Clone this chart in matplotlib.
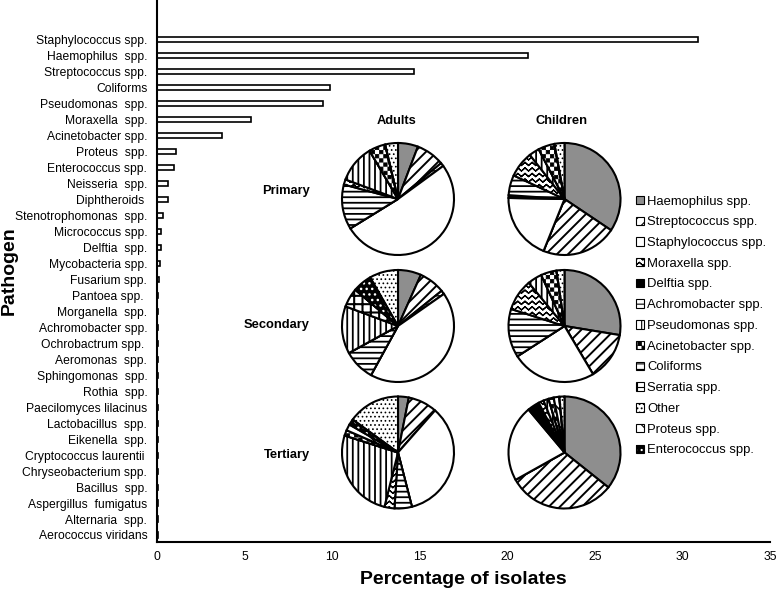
import warnings
warnings.filterwarnings('ignore')
import numpy as np
import matplotlib
matplotlib.use('Agg')
import matplotlib.pyplot as plt
import matplotlib.hatch as mhatch
from matplotlib.path import Path
from matplotlib.patches import Patch, Wedge
from matplotlib.legend_handler import HandlerTuple

plt.rcParams['font.family'] = ['Liberation Sans', 'DejaVu Sans']
plt.rcParams['hatch.linewidth'] = 1.3

# ---------------- data ----------------
pathogens = ['Staphylococcus spp.', 'Haemophilus  spp.', 'Streptococcus spp.', 'Coliforms',
             'Pseudomonas  spp.', 'Moraxella  spp.', 'Acinetobacter spp.', 'Proteus  spp.',
             'Enterococcus spp.', 'Neisseria  spp.', 'Diphtheroids ', 'Stenotrophomonas  spp.',
             'Micrococcus spp.', 'Delftia  spp.', 'Mycobacteria spp.', 'Fusarium spp.',
             'Pantoea spp. ', 'Morganella  spp.', 'Achromobacter spp.', 'Ochrobactrum spp. ',
             'Aeromonas  spp.', 'Sphingomonas  spp.', 'Rothia  spp.', 'Paecilomyces lilacinus',
             'Lactobacillus  spp.', 'Eikenella  spp.', 'Cryptococcus laurentii ', 'Chryseobacterium spp.',
             'Bacillus  spp.', 'Aspergillus  fumigatus', 'Alternaria  spp.', 'Aerococcus viridans']
isolate_pct = [30.9, 21.2, 14.7, 9.9, 9.5, 5.35, 3.7, 1.1, 0.95, 0.6, 0.6, 0.35,
               0.25, 0.25, 0.15, 0.12, 0.07, 0.07, 0.07, 0.07, 0.07, 0.07, 0.07, 0.07,
               0.07, 0.07, 0.07, 0.07, 0.07, 0.07, 0.07, 0.07]
x_ticks = [0, 5, 10, 15, 20, 25, 30, 35]

# clockwise slice order used in every pie
slice_order = ['Haemophilus spp.', 'Streptococcus spp.', 'Achromobacter spp.', 'Staphylococcus spp.',
               'Delftia spp.', 'Coliforms', 'Moraxella spp.', 'Pseudomonas spp.', 'Serratia spp.',
               'Acinetobacter spp.', 'Proteus spp.', 'Enterococcus spp.', 'Other']
adults_primary     = [5.8, 8.2, 1.0, 51.4, 0.0, 13.0, 1.5, 10.9, 0.0, 4.8, 0.0, 0.0, 3.7]
children_primary   = [34.4, 21.7, 0.0, 19.2, 0.8, 5.8, 7.5, 3.0, 0.0, 4.7, 0.0, 0.0, 2.9]
adults_secondary   = [6.7, 7.5, 1.1, 42.7, 0.0, 9.0, 0.0, 13.7, 5.5, 0.0, 0.0, 5.5, 8.3]
children_secondary = [27.6, 13.9, 0.0, 24.4, 0.0, 14.0, 9.1, 4.2, 0.0, 4.5, 0.0, 0.0, 2.3]
adults_tertiary    = [3.1, 8.4, 0.0, 34.5, 0.0, 5.0, 2.9, 26.0, 0.0, 1.6, 1.8, 1.7, 15.0]
children_tertiary  = [35.7, 31.2, 0.0, 22.0, 3.5, 0.0, 1.5, 1.5, 0.0, 1.5, 1.6, 0.0, 1.5]

legend_order = ['Haemophilus spp.', 'Streptococcus spp.', 'Staphylococcus spp.', 'Moraxella spp.',
                'Delftia spp.', 'Achromobacter spp.', 'Pseudomonas spp.', 'Acinetobacter spp.',
                'Coliforms', 'Serratia spp.', 'Other', 'Proteus spp.', 'Enterococcus spp.']
group_labels = ['Adults', 'Children']
level_labels = ['Primary', 'Secondary', 'Tertiary']


# ---------------- custom fill patterns (zigzag, checkerboard) ----------------
class ZigZagHatch(mhatch.HatchPatternBase):
    def __init__(self, hatch, density):
        self.num_rows = int(hatch.count('z') * density)
        self.teeth = max(1, int(self.num_rows * 0.8))
        self.npts = 2 * self.teeth + 1
        self.num_vertices = self.num_rows * self.npts * 2

    def set_vertices_and_codes(self, vertices, codes):
        step = 1.0 / self.num_rows
        amp = 0.28 * step
        xs = np.linspace(0, 1, self.npts)
        zig = np.where(np.arange(self.npts) % 2 == 0, -amp, amp)
        k = 0
        for r in range(self.num_rows):
            fwd = np.column_stack([xs, (r + 0.5) * step + zig])
            pts = np.vstack([fwd, fwd[::-1]])
            n = len(pts)
            vertices[k:k + n] = pts
            codes[k] = Path.MOVETO
            codes[k + 1:k + n] = Path.LINETO
            k += n


class CheckerHatch(mhatch.HatchPatternBase):
    def __init__(self, hatch, density):
        self.n = int(hatch.count('c') * density) * 2
        self.num_vertices = (self.n * self.n // 2) * 5

    def set_vertices_and_codes(self, vertices, codes):
        cell = 1.0 / self.n
        half = max(cell / 2 - 0.004, cell * 0.2)
        k = 0
        for i in range(self.n):
            for j in range(self.n):
                if (i + j) % 2:
                    continue
                cx, cy = (i + 0.5) * cell, (j + 0.5) * cell
                vertices[k:k + 5] = [[cx - half, cy - half], [cx + half, cy - half],
                                     [cx + half, cy + half], [cx - half, cy + half],
                                     [cx - half, cy - half]]
                codes[k:k + 5] = [Path.MOVETO, Path.LINETO, Path.LINETO, Path.LINETO, Path.CLOSEPOLY]
                k += 5


mhatch._hatch_types.append(ZigZagHatch)
mhatch._hatch_types.append(CheckerHatch)

# name: (face colour, hatch, hatch line width)
STYLE = {
    'Haemophilus spp.': ('#8e8e8e', None, 1.3),
    'Streptococcus spp.': ('white', '///', 1.4),
    'Staphylococcus spp.': ('white', None, 1.3),
    'Moraxella spp.': ('white', 'zzz', 0.9),
    'Delftia spp.': ('black', None, 1.3),
    'Achromobacter spp.': ('white', '--', 1.0),
    'Pseudomonas spp.': ('white', '|||', 1.3),
    'Acinetobacter spp.': ('white', 'cc', 0.6),
    'Coliforms': ('white', '---', 1.3),
    'Serratia spp.': ('white', '++', 1.5),
    'Other': ('white', '....', 0.7),
    'Proteus spp.': ('white', '\\\\', 1.2),
    'Enterococcus spp.': ('black', '...', 1.0),
}


def set_hatch_lw(artist, lw):
    if hasattr(artist, 'set_hatch_linewidth'):
        try:
            artist.set_hatch_linewidth(lw)
        except Exception:
            pass
    orig = artist.draw

    def draw(renderer, _orig=orig, _lw=lw):
        with plt.rc_context({'hatch.linewidth': _lw}):
            _orig(renderer)
    artist.draw = draw


W, H = 778, 589
fig = plt.figure(figsize=(W / 100, H / 100), dpi=100)

# ---------------- bar chart ----------------
ax = fig.add_axes([157 / W, (H - 541.7) / H, 613 / W, 541.7 / H])
ypos = np.arange(len(pathogens))[::-1]
ax.barh(ypos, isolate_pct, height=0.32, color='white', edgecolor='black', linewidth=1.2)
ax.set_yticks(ypos, pathogens)
ax.set_xticks(x_ticks)
ax.set_xlim(0, 35)
ax.set_ylim(-0.42, len(pathogens) - 1 + 2.5)
for s in ['top', 'right']:
    ax.spines[s].set_visible(False)
for s in ['left', 'bottom']:
    ax.spines[s].set_linewidth(1.5)
ax.tick_params(length=0, labelsize=8.7)
ax.tick_params(axis='y', pad=7)
ax.tick_params(axis='x', pad=7)
ax.set_xlabel('Percentage of isolates', fontsize=14, fontweight='bold')
ax.xaxis.set_label_coords(0.5, -(580 - 541.7) / 541.7)
ax.xaxis.label.set_va('center')
ax.set_ylabel('Pathogen', fontsize=14, fontweight='bold')
ax.yaxis.set_label_coords((9 - 157) / 613, 0.5)
ax.yaxis.label.set_va('center')
ax.yaxis.label.set_ha('center')

# ---------------- pies ----------------
R, M = 56, 4
PIE_LW = 1.5


def pie_at(cx, cy, values):
    pax = fig.add_axes([(cx - R - M) / W, 1 - (cy + R + M) / H, 2 * (R + M) / W, 2 * (R + M) / H])
    wedges, _ = pax.pie(values, radius=R / (R + M), startangle=90, counterclock=False,
                        wedgeprops=dict(edgecolor='black', linewidth=PIE_LW))
    for w, name in zip(wedges, slice_order):
        fc, hatch, hlw = STYLE[name]
        w.set_facecolor(fc)
        if name == 'Enterococcus spp.':
            w.set_edgecolor('white')
            w.set_linewidth(0)
            w.set_hatch(hatch)
            set_hatch_lw(w, hlw)
            pax.add_patch(Wedge(w.center, w.r, w.theta1, w.theta2, fill=False,
                                edgecolor='black', linewidth=PIE_LW))
        elif hatch:
            w.set_hatch(hatch)
            set_hatch_lw(w, hlw)
    pax.set_xlim(-1, 1)
    pax.set_ylim(-1, 1)
    pax.set_aspect('equal')
    pax.axis('off')


col_x = [398, 564.5]
row_y = [199, 326, 452.5]
pie_data = [[adults_primary, children_primary],
            [adults_secondary, children_secondary],
            [adults_tertiary, children_tertiary]]
for ri, cy in enumerate(row_y):
    for ci, cx in enumerate(col_x):
        pie_at(cx, cy, pie_data[ri][ci])

for cx, lab in zip([396.5, 561], group_labels):
    fig.text(cx / W, 1 - 120.5 / H, lab, ha='center', va='center', fontsize=9.3, fontweight='bold')
for cy, lab in zip([191, 325, 455], level_labels):
    fig.text(310 / W, 1 - cy / H, lab, ha='right', va='center', fontsize=9.3, fontweight='bold')

# ---------------- legend ----------------
handles = []
for name in legend_order:
    fc, hatch, hlw = STYLE[name]
    if name == 'Enterococcus spp.':
        h = (Patch(facecolor='black', edgecolor='white', hatch=hatch, linewidth=0),
             Patch(fill=False, edgecolor='black', linewidth=0.8))
    else:
        h = Patch(facecolor=fc, edgecolor='black', hatch=hatch, linewidth=0.8)
    handles.append(h)
leg = fig.legend(handles, legend_order, loc='upper left', bbox_to_anchor=(636 / W, 1 - 195.5 / H),
                 frameon=False, borderpad=0, borderaxespad=0, fontsize=9.4,
                 handlelength=0.6, handleheight=0.6, handletextpad=0.25, labelspacing=0.67,
                 handler_map={tuple: HandlerTuple(ndivide=1)})
for p in leg.get_patches():
    set_hatch_lw(p, 0.8)

fig.savefig('out.png', dpi=100)
